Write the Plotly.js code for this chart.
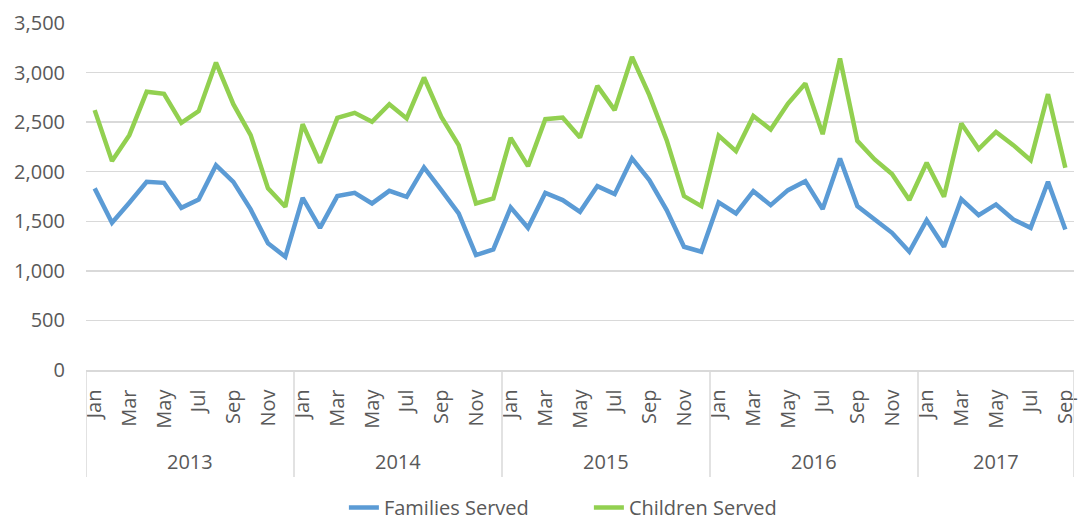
<!DOCTYPE html>
<html>
<head>
<meta charset="utf-8">
<script src="https://cdn.plot.ly/plotly-3.0.1.min.js"></script>
<style>html,body{margin:0;padding:0;background:#fff;}#chart{width:1078px;height:523px;}</style>
</head>
<body>
<div id="chart"></div>
<script>
const years = ['2013', '2014', '2015', '2016', '2017'];
const months = ['Jan','Feb','Mar','Apr','May','Jun','Jul','Aug','Sep','Oct','Nov','Dec'];
const monthsPerYear = [12, 12, 12, 12, 9];
const families = [
  1832, 1485, 1687, 1898, 1888, 1636, 1720, 2066, 1898, 1620, 1277, 1142,
  1737, 1434, 1754, 1787, 1680, 1807, 1747, 2043, 1814, 1579, 1159, 1216,
  1640, 1434, 1787, 1714, 1596, 1855, 1774, 2134, 1915, 1613, 1243, 1193,
  1690, 1579, 1804, 1663, 1814, 1905, 1623, 2134, 1653, 1512, 1384, 1193,
  1512, 1243, 1724, 1562, 1670, 1519, 1434, 1898, 1418
];
const children = [
  2621, 2107, 2369, 2806, 2785, 2493, 2611, 3101, 2681, 2369, 1832, 1646,
  2480, 2090, 2543, 2594, 2503, 2681, 2537, 2950, 2553, 2268, 1680, 1731,
  2342, 2056, 2530, 2547, 2346, 2866, 2621, 3158, 2772, 2318, 1754, 1653,
  2364, 2208, 2563, 2426, 2688, 2890, 2379, 3142, 2311, 2124, 1976, 1714,
  2090, 1747, 2487, 2228, 2402, 2268, 2117, 2782, 2039
];
const tickMonths = ['Jan','Mar','May','Jul','Sep','Nov'];

// build categories
const cats = [];
const tickvals = [];
const ticktext = [];
const yearStarts = [];
years.forEach((y, yi) => {
  yearStarts.push(cats.length);
  for (let m = 0; m < monthsPerYear[yi]; m++) {
    const c = months[m] + ' ' + y;
    cats.push(c);
    if (tickMonths.includes(months[m])) { tickvals.push(c); ticktext.push(months[m]); }
  }
});
yearStarts.push(cats.length);

const FONT = 'Open Sans, Noto Sans, sans-serif';
const GRAY = '#595959';
const LINE = '#d9d9d9';
const PH = 347;

const shapes = [];
const annotations = [];
const bottomY = (370 - 477) / PH;
for (let i = 0; i < yearStarts.length; i++) {
  shapes.push({type: 'line', xref: 'x', yref: 'paper', x0: yearStarts[i] - 0.5, x1: yearStarts[i] - 0.5,
    y0: 0, y1: bottomY, line: {color: LINE, width: 1.5}});
}
for (let i = 0; i < years.length; i++) {
  annotations.push({xref: 'x', yref: 'paper', x: (yearStarts[i] + yearStarts[i + 1] - 1) / 2,
    y: (370 - 461) / PH, text: years[i], showarrow: false, yanchor: 'middle', xanchor: 'center',
    font: {family: FONT, size: 20, color: GRAY}});
}

const traces = [
  {x: cats, y: families, type: 'scatter', mode: 'lines', name: 'Families Served',
   line: {color: '#5B9BD5', width: 4.5, shape: 'linear'}},
  {x: cats, y: children, type: 'scatter', mode: 'lines', name: 'Children Served',
   line: {color: '#92D050', width: 4.5, shape: 'linear'}}
];

const layout = {
  width: 1078, height: 523,
  margin: {l: 86, r: 4, t: 23, b: 153, autoexpand: false},
  paper_bgcolor: '#fff', plot_bgcolor: '#fff',
  font: {family: FONT, size: 20, color: GRAY},
  showlegend: true,
  legend: {orientation: 'h', x: 0.509, xanchor: 'center', y: -157 / PH, yanchor: 'bottom',
    font: {family: FONT, size: 20, color: GRAY}, traceorder: 'normal', entrywidth: 200},
  xaxis: {type: 'category', range: [-0.5, cats.length - 0.5], tickvals: tickvals, ticktext: ticktext,
    tickangle: -90, showgrid: false, zeroline: false, showline: true, linecolor: LINE, linewidth: 1.5,
    ticks: '', ticklabelstandoff: 10, automargin: false, tickfont: {family: FONT, size: 20, color: GRAY}, fixedrange: true},
  yaxis: {range: [0, 3500], dtick: 500, tick0: 0, tickformat: ',d', showgrid: true, gridcolor: LINE, gridwidth: 1.5,
    zeroline: false, showline: false, ticks: '', ticklabelstandoff: 20, automargin: false,
    tickfont: {family: FONT, size: 20, color: GRAY}, fixedrange: true},
  shapes: shapes,
  annotations: annotations
};

Plotly.newPlot('chart', traces, layout, {displayModeBar: false, staticPlot: true});
</script>
</body>
</html>
